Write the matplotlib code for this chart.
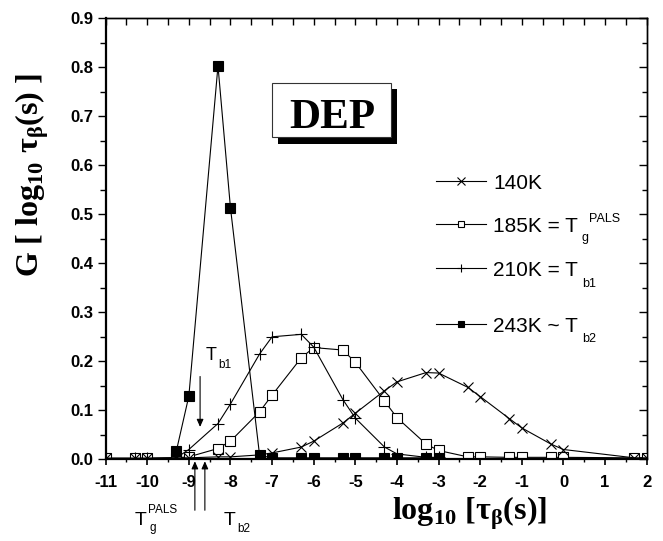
import matplotlib
matplotlib.use("Agg")
import matplotlib.pyplot as plt
from matplotlib.patches import Rectangle
from matplotlib.ticker import MultipleLocator, FormatStrFormatter

plt.rcParams['font.family'] = ['Liberation Sans', 'DejaVu Sans']
plt.rcParams['axes.unicode_minus'] = False
plt.rcParams['mathtext.fontset'] = 'custom'
plt.rcParams['mathtext.rm'] = 'Liberation Serif:bold'
plt.rcParams['mathtext.bf'] = 'Liberation Serif:bold'
plt.rcParams['mathtext.sf'] = 'Liberation Sans'

W, H = 663, 541

# log10(tau) grid of the distributions
x_full = [-11, -10.3, -10, -9.3, -9, -8.3, -8, -7.3, -7, -6.3, -6, -5.3, -5,
          -4.3, -4, -3.3, -3, -2.3, -2, -1.3, -1, -0.3, 0, 1.7, 2]
x_210 = [-11, -10.3, -10, -9.3, -9, -8.3, -8, -7.3, -7, -6.3, -6, -5.3, -5,
         -4.3, -4, -3.3, -3]
x_243 = [-9.3, -9, -8.3, -8, -7.3, -7, -6.3, -6, -5.3, -5, -4.3, -4, -3.3, -3]

g_140 = [0.002, 0.002, 0.002, 0.003, 0.003, 0.005, 0.005, 0.009, 0.013, 0.025,
         0.037, 0.074, 0.094, 0.140, 0.158, 0.177, 0.176, 0.147, 0.128, 0.083,
         0.064, 0.031, 0.020, 0.003, 0.003]
g_185 = [0.002, 0.002, 0.002, 0.003, 0.005, 0.022, 0.037, 0.097, 0.131, 0.207,
         0.228, 0.223, 0.198, 0.119, 0.085, 0.031, 0.018, 0.005, 0.005, 0.004,
         0.004, 0.004, 0.004, 0.003, 0.003]
g_210 = [0.002, 0.002, 0.002, 0.003, 0.020, 0.073, 0.113, 0.215, 0.250, 0.255,
         0.229, 0.122, 0.084, 0.025, 0.011, 0.004, 0.004]
g_243 = [0.017, 0.129, 0.803, 0.513, 0.008, 0.003, 0.003, 0.003, 0.003, 0.003,
         0.003, 0.003, 0.003, 0.003]

# characteristic relaxation times marked with arrows
LOG_TAU_TB1 = -8.73
LOG_TAU_TG = -8.855
LOG_TAU_TB2 = -8.615


def fpx(x, y):
    return x / W, 1 - y / H


fig = plt.figure(figsize=(W / 100, H / 100), dpi=100)
ax = fig.add_axes([105.6 / W, (H - 459.3) / H, 541.1 / W, 441 / H])

line_kw = dict(color='black', lw=0.8, mew=0.8)
l185, = ax.plot(x_full, g_185, marker='s', ms=6.5, mfc='white', mec='black', **line_kw)
l210, = ax.plot(x_210, g_210, marker='+', ms=8, **line_kw)
l140, = ax.plot(x_full, g_140, marker='x', ms=7, **line_kw)
l243, = ax.plot(x_243, g_243, marker='s', ms=6.5, mfc='black', mec='black', **line_kw)

ax.set_xlim(-11, 2)
ax.set_ylim(0, 0.9)
ax.xaxis.set_major_locator(MultipleLocator(1))
ax.xaxis.set_minor_locator(MultipleLocator(0.5))
ax.yaxis.set_major_locator(MultipleLocator(0.1))
ax.yaxis.set_minor_locator(MultipleLocator(0.05))
ax.yaxis.set_major_formatter(FormatStrFormatter('%.1f'))

ax.tick_params(axis='x', which='major', direction='out', length=4.5, width=1.2,
               labelsize=12, pad=6.5)
ax.tick_params(axis='x', which='minor', direction='out', length=2.5, width=1.0)
ax.tick_params(axis='y', which='major', direction='out', length=6, width=1.0,
               labelsize=12, pad=3)
ax.tick_params(axis='y', which='minor', direction='out', length=4, width=1.0)
for lbl in ax.get_xticklabels() + ax.get_yticklabels():
    lbl.set_fontweight('bold')

for side in ['left', 'bottom']:
    ax.spines[side].set_linewidth(1.6)
for side in ['top', 'right']:
    ax.spines[side].set_linewidth(1.0)

# inward ticks on the top and right frame
top = ax.secondary_xaxis('top')
top.xaxis.set_major_locator(MultipleLocator(1))
top.xaxis.set_minor_locator(MultipleLocator(0.5))
top.tick_params(which='both', direction='in', length=5, width=1.0, labeltop=False)
top.spines['top'].set_linewidth(1.0)
right = ax.secondary_yaxis('right')
right.yaxis.set_major_locator(MultipleLocator(0.1))
right.yaxis.set_minor_locator(MultipleLocator(0.05))
right.tick_params(which='major', direction='in', length=6, width=1.0, labelright=False)
right.tick_params(which='minor', direction='in', length=3.5, width=1.0)
right.spines['right'].set_linewidth(1.0)

# axis titles
fig.text(*fpx(470, 520), 'log$_{10}$ [τ$_{\\mathrm{β}}$(s)]', family='Liberation Serif',
         weight='bold', fontsize=23, ha='center', va='baseline')
fig.text(*fpx(39, 175), 'G [ log$_{10}$ τ$_{\\mathrm{β}}$(s) ]', family='Liberation Serif',
         weight='bold', fontsize=23, rotation=90, rotation_mode='anchor',
         ha='center', va='baseline')

# DEP label with drop shadow
fig.add_artist(Rectangle(fpx(278.3, 144), 118.4 / W, 54.7 / H,
                         transform=fig.transFigure, facecolor='black', edgecolor='none'))
fig.add_artist(Rectangle(fpx(272.3, 137.3), 118.4 / W, 54.6 / H,
                         transform=fig.transFigure, facecolor='white',
                         edgecolor='#333333', lw=0.8))
fig.text(*fpx(332, 128), 'DEP', family='Liberation Serif', weight='bold',
         fontsize=31, ha='center', va='baseline')

# one legend row per temperature
rows = [(l140, '140K', 183), (l185, '185K = T', 226), (l210, '210K = T', 270),
        (l243, '243K ~ T', 326)]
for handle, label, ypx in rows:
    leg = fig.legend([handle], [label], loc='center left', bbox_to_anchor=fpx(436, ypx),
                     bbox_transform=fig.transFigure, frameon=False, fontsize=15,
                     handlelength=2.4, handletextpad=0.35, borderpad=0,
                     borderaxespad=0, markerscale=0.75)

small = dict(fontsize=9, va='baseline', ha='left')
fig.text(*fpx(582, 241), 'g', **small)
fig.text(*fpx(589, 222), 'PALS', **small)
fig.text(*fpx(582, 287), 'b1', **small)
fig.text(*fpx(582, 342), 'b2', **small)

# arrows and labels for the transition temperatures
arrow = dict(arrowstyle='-|>,head_length=0.45,head_width=0.2', color='black', lw=0.8,
             shrinkA=0, shrinkB=0)
ax.annotate('', xy=(LOG_TAU_TB1, 0.066), xytext=(LOG_TAU_TB1, 0.169), arrowprops=arrow)
ax.annotate('', xy=(LOG_TAU_TG, -0.004), xytext=(LOG_TAU_TG, -0.104), arrowprops=arrow,
            annotation_clip=False)
ax.annotate('', xy=(LOG_TAU_TB2, -0.004), xytext=(LOG_TAU_TB2, -0.104), arrowprops=arrow,
            annotation_clip=False)

fig.text(*fpx(206, 360), 'T', fontsize=13, va='baseline', ha='left')
fig.text(*fpx(218, 368), 'b1', fontsize=8.5, va='baseline', ha='left')
fig.text(*fpx(135, 525), 'T', fontsize=14, va='baseline', ha='left')
fig.text(*fpx(148, 513), 'PALS', fontsize=8.5, va='baseline', ha='left')
fig.text(*fpx(149, 531), 'g', fontsize=8.5, va='baseline', ha='left')
fig.text(*fpx(224, 525), 'T', fontsize=14, va='baseline', ha='left')
fig.text(*fpx(237, 532), 'b2', fontsize=8.5, va='baseline', ha='left')

fig.savefig('out.png', dpi=100)
